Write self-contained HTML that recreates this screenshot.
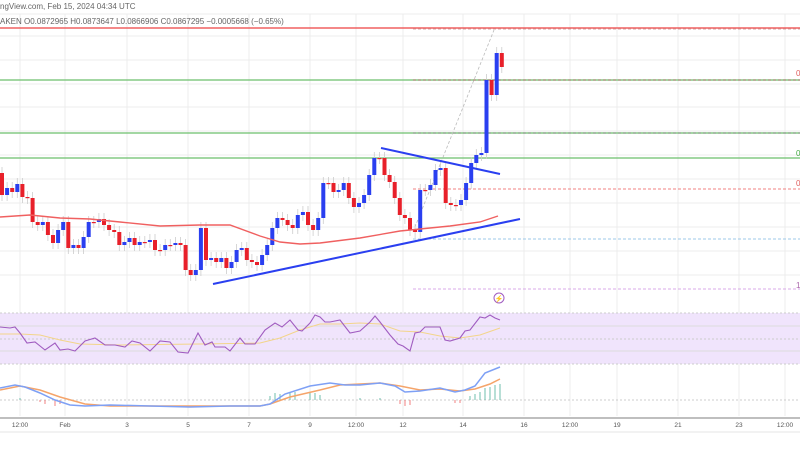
<!DOCTYPE html>
<html><head><meta charset="utf-8"><style>
html,body{margin:0;padding:0;background:#fff;width:800px;height:450px;overflow:hidden}
svg{display:block;font-family:"Liberation Sans",sans-serif}
</style></head><body>
<svg id="c" width="800" height="450" viewBox="0 0 800 450"></svg>
<script>
const s=document.getElementById('c');let h='';
const gx=[20,65,127,188,249,310,356,403,463,524,570,617,678,739,785];
gx.forEach(x=>h+=`<line x1="${x}" y1="14" x2="${x}" y2="416" stroke="#ececec" stroke-width="1"/>`);
[14,36,60,84,107,131,155,179,203,227,251,275].forEach(y=>h+=`<line x1="0" y1="${y}" x2="800" y2="${y}" stroke="#ececec"/>`);
// level lines
h+=`<line x1="0" y1="28" x2="800" y2="28" stroke="#f06060" stroke-width="1.5"/>`;
[80,133,158].forEach(y=>h+=`<line x1="0" y1="${y}" x2="800" y2="${y}" stroke="#6cbf6c" stroke-width="1.3"/>`);
h+=`<line x1="413" y1="29" x2="800" y2="29" stroke="#c88" stroke-dasharray="3,2" stroke-width="0.8"/>`;
h+=`<line x1="413" y1="80" x2="800" y2="80" stroke="#a55" stroke-dasharray="3,2" stroke-width="0.8"/>`;
h+=`<line x1="413" y1="133" x2="800" y2="133" stroke="#777" stroke-dasharray="3,2" stroke-width="0.8"/>`;
h+=`<line x1="413" y1="189" x2="800" y2="189" stroke="#f08080" stroke-dasharray="3,2" stroke-width="1"/>`;
h+=`<line x1="413" y1="239" x2="800" y2="239" stroke="#9cc8e8" stroke-dasharray="3,2" stroke-width="1"/>`;
h+=`<line x1="413" y1="289" x2="800" y2="289" stroke="#d8a8e8" stroke-dasharray="3,2" stroke-width="1"/>`;
h+=`<line x1="413" y1="232" x2="494" y2="30" stroke="#bbb" stroke-dasharray="3,2" stroke-width="0.8"/>`;
// candles
const c=[195,188,192,184,197,198,222,225,222,235,243,230,222,248,245,248,237,222,222,219,225,230,232,245,242,238,245,242,242,240,250,250,245,245,243,245,270,275,270,228,260,258,262,258,268,262,250,248,260,262,265,255,245,228,218,220,225,228,215,212,225,230,218,183,183,192,190,183,198,207,203,195,175,158,158,175,182,198,215,218,230,232,190,190,185,170,168,203,205,205,200,183,163,155,153,80,95,53,67];
let prev=173;
c.forEach((y,i)=>{const x=2+i*5.1;const up=y<prev;const top=Math.min(y,prev),bot=Math.max(y,prev);
h+=`<line x1="${x}" y1="${top-6}" x2="${x}" y2="${bot+6}" stroke="#ccc" stroke-width="0.8"/>`;
h+=`<rect x="${x-2}" y="${top}" width="4" height="${Math.max(1.2,bot-top)}" fill="${up?'#2a3ff0':'#e8202a'}"/>`;prev=y;});
// MA
h+=`<polyline fill="none" stroke="#f06060" stroke-width="1.4" points="0,217 30,215 60,218 90,219 120,222 160,226 200,225 230,225 260,236 280,242 300,244 320,243 360,238 400,231 420,229 450,226 480,222 498,216"/>`;
// trendlines
h+=`<line x1="213" y1="284" x2="520" y2="219" stroke="#2a3ff0" stroke-width="2"/>`;
h+=`<line x1="381" y1="148" x2="500" y2="174" stroke="#2a3ff0" stroke-width="2"/>`;
// header text
h+=`<text x="0" y="9" font-size="8" fill="#666">ngView.com, Feb 15, 2024 04:34 UTC</text>`;
h+=`<text x="0" y="24" font-size="8" fill="#666">AKEN O0.0872965 H0.0873647 L0.0866906 C0.0867295 −0.0005668 (−0.65%)</text>`;
h+=`<text x="796" y="76" font-size="8" fill="#e06060">0</text><text x="796" y="156" font-size="8" fill="#4a4">0</text><text x="796" y="186" font-size="8" fill="#e06060">0</text><text x="796" y="288" font-size="8" fill="#a6a">1</text>`;
// RSI
h+=`<rect x="0" y="313" width="800" height="51" fill="#f0e4fc"/>`;
h+=`<line x1="0" y1="313" x2="800" y2="313" stroke="#ccc" stroke-dasharray="2,2"/><line x1="0" y1="364" x2="800" y2="364" stroke="#ccc" stroke-dasharray="2,2"/>`;
h+=`<line x1="0" y1="326" x2="800" y2="326" stroke="#ddd"/><line x1="0" y1="339" x2="800" y2="339" stroke="#ccc" stroke-dasharray="2,2"/><line x1="0" y1="351" x2="800" y2="351" stroke="#ddd"/>`;
h+=`<polyline fill="none" stroke="#f3d58a" stroke-width="1" points="0,334 20,334 40,335 60,340 80,344 120,345 200,344 260,343 280,338 300,330 320,324 340,324 360,323 380,324 400,331 420,332 440,336 460,338 480,335 500,328"/>`;
h+=`<polyline fill="none" stroke="#a05cc0" stroke-width="1.1" points="0,327 10,328 15,327 20,333 27,343 35,342 45,350 55,343 60,350 68,349 75,351 85,341 95,338 105,345 115,345 125,347 132,341 140,343 150,351 160,341 170,342 178,352 188,353 198,333 205,345 212,342 215,347 225,347 230,351 240,338 245,344 255,344 265,330 275,323 282,327 290,320 298,330 302,331 310,323 315,315 320,317 325,322 330,322 340,320 350,333 360,331 370,322 375,316 380,322 390,335 398,344 403,346 410,351 415,333 420,332 425,327 430,327 435,327 440,327 445,340 450,341 460,338 465,331 470,330 480,317 485,318 490,315 495,318 500,320"/>`;
h+=`<circle cx="499" cy="298" r="5" fill="#fff" stroke="#a05cc0" stroke-width="1"/><text x="499" y="301" font-size="7" fill="#a05cc0" text-anchor="middle">⚡</text>`;
// MACD
h+=`<line x1="0" y1="400" x2="800" y2="400" stroke="#ccc" stroke-dasharray="2,2"/>`;
const hist=[[20,398],[40,402],[45,404],[55,406],[60,404],[270,396],[275,393],[280,394],[290,393],[295,392],[310,392],[315,393],[320,395],[360,398],[380,398],[400,404],[405,406],[410,405],[455,403],[460,403],[470,396],[475,394],[480,392],[485,388],[490,387],[495,385],[500,384]];
hist.forEach(([x,y])=>h+=`<line x1="${x}" y1="400" x2="${x}" y2="${y}" stroke="${y<400?'#4caf9a':'#ef6060'}" stroke-width="0.8"/>`);
h+=`<polyline fill="none" stroke="#f5a46a" stroke-width="1.5" points="0,390 20,386 40,390 60,397 85,404 110,406 150,406 200,406 260,406 270,404 290,397 320,390 340,385 360,384 380,383 400,386 420,390 440,389 460,391 475,389 490,384 500,379"/>`;
h+=`<polyline fill="none" stroke="#7ea0f5" stroke-width="1.5" points="0,388 15,385 25,387 40,393 55,400 70,405 85,406 110,405 150,406 190,407 230,406 260,406 270,404 285,394 310,386 330,383 345,385 360,385 380,383 395,386 405,392 420,391 440,388 455,392 465,390 475,386 485,373 500,367"/>`;
// axis
h+=`<line x1="0" y1="418" x2="800" y2="418" stroke="#999" stroke-width="1.2"/>`;
h+=`<line x1="0" y1="432" x2="800" y2="432" stroke="#f2f2f2" stroke-width="2"/>`;
const lb=[[20,"12:00"],[65,"Feb"],[127,"3"],[188,"5"],[249,"7"],[310,"9"],[356,"12:00"],[403,"12"],[463,"14"],[524,"16"],[570,"12:00"],[617,"19"],[678,"21"],[739,"23"],[785,"12:00"]];
lb.forEach(([x,t])=>h+=`<text x="${x}" y="427" font-size="6.5" fill="#555" text-anchor="middle">${t}</text>`);
s.innerHTML=h;
</script>
</body></html>
